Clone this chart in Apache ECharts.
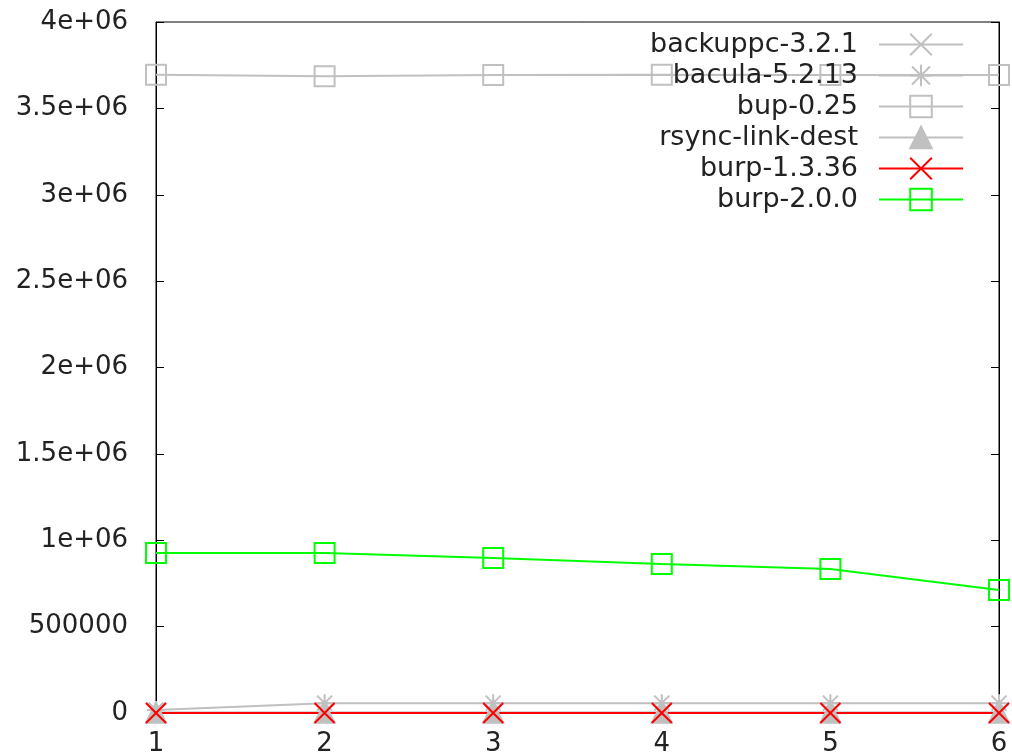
<!DOCTYPE html>
<html>
<head>
<meta charset="utf-8">
<script src="https://cdn.jsdelivr.net/npm/echarts@6/dist/echarts.min.js"></script>
<style>
  html, body { margin: 0; padding: 0; background: #fff; }
  #chart { width: 1012px; height: 756px; }
</style>
</head>
<body>
<div id="chart"></div>
<script>
// Backup run number along x
const runs = [1, 2, 3, 4, 5, 6];

// Series values per run
const backuppc = [3000, 3000, 3000, 3000, 3000, 3000];
const bacula = [17000, 57000, 57000, 57000, 57000, 57000];
const bup = [3695000, 3686000, 3693000, 3694000, 3693000, 3693000];
const rsyncLinkDest = [1000, 1000, 1000, 1000, 1000, 1000];
const burp136 = [0, 0, 0, 0, 0, 0];
const burp200 = [926000, 926000, 897000, 862000, 834000, 712000];

// Y tick labels in gnuplot style
const yTickValues = [0, 500000, 1000000, 1500000, 2000000, 2500000, 3000000, 3500000, 4000000];
const yTickLabels = ['0', '500000', '1e+06', '1.5e+06', '2e+06', '2.5e+06', '3e+06', '3.5e+06', '4e+06'];

const FONT = 'DejaVu Sans';
const GREY = '#c0c0c0';

const SYM_CROSS = 'path://M0,0L10,10M10,0L0,10';
const SYM_STAR = 'path://M0,0L10,10M10,0L0,10M5,-1L5,11M-1,5L11,5';

function pairs(vals) { return runs.map((x, i) => [x, vals[i]]); }

function makeSeries(name, vals, color, symbol, filled, size) {
  return {
    name: name,
    type: 'line',
    data: pairs(vals),
    symbol: symbol,
    symbolSize: size,
    showAllSymbol: true,
    lineStyle: { color: color, width: 2 },
    itemStyle: {
      color: filled ? color : 'rgba(0,0,0,0)',
      borderColor: color,
      borderWidth: 2
    },
    emphasis: { disabled: true },
    animation: false
  };
}

const chart = echarts.init(document.getElementById('chart'), null, { renderer: 'canvas' });

chart.setOption({
  backgroundColor: '#fff',
  animation: false,
  grid: {
    left: 156, right: 13, top: 22, bottom: 43,
    outerBoundsMode: 'none',
    containLabel: false,
    show: true, borderColor: '#000', borderWidth: 1, backgroundColor: 'transparent'
  },
  legend: {
    orient: 'vertical',
    right: 43,
    top: 26,
    align: 'right',
    itemWidth: 84,
    itemHeight: 27,
    itemGap: 4,
    selectedMode: false,
    textStyle: { fontFamily: FONT, fontSize: 27, color: '#222', padding: [0, 16, 0, 0] },
    data: ['backuppc-3.2.1', 'bacula-5.2.13', 'bup-0.25', 'rsync-link-dest', 'burp-1.3.36', 'burp-2.0.0']
  },
  xAxis: [
    {
      type: 'value', min: 1, max: 6, interval: 1,
      axisLine: { show: true, lineStyle: { color: '#000', width: 1 } },
      axisTick: { show: true, inside: true, length: 8, lineStyle: { color: '#000' } },
      axisLabel: { fontFamily: FONT, fontSize: 26, color: '#222', margin: 18 },
      splitLine: { show: false }
    },
    {
      type: 'value', min: 1, max: 6, interval: 1, position: 'top',
      axisLine: { show: true, lineStyle: { color: '#000', width: 1 } },
      axisTick: { show: true, inside: true, length: 8, lineStyle: { color: '#000' } },
      axisLabel: { show: false },
      splitLine: { show: false }
    }
  ],
  yAxis: [
    {
      type: 'value', min: 0, max: 4000000, interval: 500000,
      axisLine: { show: true, lineStyle: { color: '#000', width: 1 } },
      axisTick: { show: true, inside: true, length: 8, lineStyle: { color: '#000' } },
      axisLabel: {
        fontFamily: FONT, fontSize: 26, color: '#222', margin: 28,
        formatter: v => {
          const i = yTickValues.indexOf(v);
          return i >= 0 ? yTickLabels[i] : '';
        }
      },
      splitLine: { show: false }
    },
    {
      type: 'value', min: 0, max: 4000000, interval: 500000, position: 'right',
      axisLine: { show: true, lineStyle: { color: '#000', width: 1 } },
      axisTick: { show: true, inside: true, length: 8, lineStyle: { color: '#000' } },
      axisLabel: { show: false },
      splitLine: { show: false }
    }
  ],
  series: [
    makeSeries('backuppc-3.2.1', backuppc, GREY, SYM_CROSS, false, 20),
    makeSeries('bacula-5.2.13', bacula, GREY, SYM_STAR, false, 18),
    makeSeries('bup-0.25', bup, GREY, 'rect', false, 20),
    makeSeries('rsync-link-dest', rsyncLinkDest, GREY, 'triangle', true, 20),
    makeSeries('burp-1.3.36', burp136, '#ff0000', SYM_CROSS, false, 20),
    makeSeries('burp-2.0.0', burp200, '#00ff00', 'rect', false, 20)
  ]
});
</script>
</body>
</html>
